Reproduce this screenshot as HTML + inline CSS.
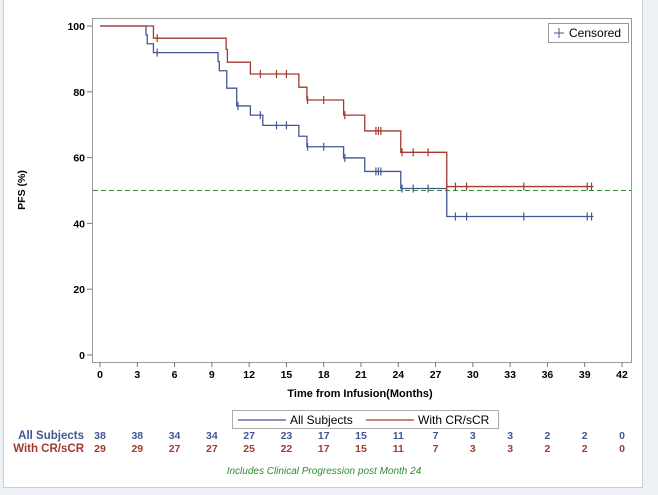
<!DOCTYPE html>
<html><head><meta charset="utf-8"><style>
html,body{margin:0;padding:0;background:#eef1f6;width:658px;height:495px;overflow:hidden}
svg{display:block;font-family:"Liberation Sans",sans-serif}
</style></head><body>
<svg id="chart" width="658" height="495" xmlns="http://www.w3.org/2000/svg">
<rect x="3.5" y="-1" width="639" height="488.5" fill="#fff" stroke="#c8ccd4"/>
</svg>
<script>
const xTicks=[0,3,6,9,12,15,18,21,24,27,30,33,36,39,42];
const yTicks=[0,20,40,60,80,100];
// step series: [time, survival]
const allTimes=[0,3.7,3.8,4.3,9.5,9.6,10.2,11.0,12.1,13.1,16.0,16.65,19.6,21.3,24.2,27.9,39.7];
const allSurv=[100,97.3,94.6,91.9,89.2,86.4,81.1,75.7,72.9,69.8,66.5,63.3,59.9,55.8,50.6,42.1,42.1];
const allCens=[4.6,11.1,12.9,14.2,15.0,16.7,18.0,19.7,22.2,22.4,22.6,24.3,25.2,26.4,28.6,29.5,34.1,39.2,39.55];
const crTimes=[0,4.3,10.15,10.25,12.1,16.0,16.65,19.6,21.3,24.2,27.9,39.7];
const crSurv=[100,96.3,92.9,89.0,85.4,81.4,77.5,72.9,68.1,61.6,51.2,51.2];
const crCens=[4.6,12.9,14.2,15.0,16.7,18.0,19.7,22.2,22.4,22.6,24.3,25.2,26.4,27.9,28.6,29.5,34.1,39.2,39.55];
const riskAll=[38,38,34,34,27,23,17,15,11,7,3,3,2,2,0];
const riskCR=[29,29,27,27,25,22,17,15,11,7,3,3,2,2,0];
const refLine=50;

const svg=document.getElementById('chart');
const NS='http://www.w3.org/2000/svg';
const X=t=>100+t*(522/42);
const Y=v=>355-v*(329/100);
const BLUE='#445694', RED='#a23a2e';
function mk(tag,attrs,parent){const e=document.createElementNS(NS,tag);for(const k in attrs)e.setAttribute(k,attrs[k]);(parent||svg).appendChild(e);return e;}

let f=mk('rect',{x:92.5,y:18.5,width:539,height:344,fill:'#fff',stroke:'#999'});



xTicks.forEach(t=>{
  const l=mk('line',{x1:X(t),x2:X(t),y1:362,y2:367,stroke:'#777'});
  
  
  const tx=mk('text',{x:X(t),y:378,'text-anchor':'middle','font-size':10.5,'font-weight':'bold',fill:'#000'});
  tx.textContent=t;
  
  
});
yTicks.forEach(v=>{
  const l=mk('line',{x1:87,x2:92,y1:Y(v),y2:Y(v),stroke:'#777'});
  
  
  const tx=mk('text',{x:85,y:Y(v)+4,'text-anchor':'end','font-size':10.5,'font-weight':'bold',fill:'#000'});
  tx.textContent=v;
  
  
});
let yt=mk('text',{x:0,y:0,transform:'translate(25,190) rotate(-90)','text-anchor':'middle','font-size':10.5,'font-weight':'bold'});
yt.textContent='PFS (%)';


let xt=mk('text',{x:360,y:397,'text-anchor':'middle','font-size':11,'font-weight':'bold'});
xt.textContent='Time from Infusion(Months)';



let rl=mk('line',{x1:93,x2:631,y1:Y(refLine),y2:Y(refLine),stroke:'#2e8b2e','stroke-dasharray':'5,3'});



function stepPath(ts,ss){let d=`M${X(ts[0])},${Y(ss[0])}`;for(let i=1;i<ts.length;i++){d+=` H${X(ts[i])} V${Y(ss[i])}`;}return d;}
function survAt(ts,ss,t){let v=ss[0];for(let i=0;i<ts.length;i++){if(ts[i]<=t)v=ss[i];}return v;}
function drawSeries(ts,ss,cs,color,name){
  const p=mk('path',{d:stepPath(ts,ss),fill:'none',stroke:color,'stroke-width':1.3});
  
  
  cs.forEach(c=>{const y=Y(survAt(ts,ss,c));
    const l=mk('line',{x1:X(c),x2:X(c),y1:y-4,y2:y+4,stroke:color,'stroke-width':1.2});
    
    });
}
drawSeries(allTimes,allSurv,allCens,BLUE,'all-subjects');
drawSeries(crTimes,crSurv,crCens,RED,'cr-scr');

let cg=mk('g',{});


mk('rect',{x:548.5,y:23.5,width:80,height:19,fill:'#fff',stroke:'#999'},cg);
mk('line',{x1:559,x2:559,y1:28,y2:38,stroke:BLUE},cg);
mk('line',{x1:554,x2:564,y1:33,y2:33,stroke:BLUE},cg);
let ct=mk('text',{x:569,y:37,'font-size':12,fill:'#000'},cg);ct.textContent='Censored';

let lg=mk('g',{});


mk('rect',{x:232.5,y:410.5,width:266,height:18,fill:'#fff',stroke:'#aaa'},lg);
mk('line',{x1:238,x2:286,y1:420,y2:420,stroke:BLUE,'stroke-width':1.3},lg);
let l1=mk('text',{x:290,y:424,'font-size':12},lg);l1.textContent='All Subjects';
mk('line',{x1:366,x2:414,y1:420,y2:420,stroke:RED,'stroke-width':1.3},lg);
let l2=mk('text',{x:418,y:424,'font-size':12},lg);l2.textContent='With CR/sCR';

function riskRow(label,vals,y,color,name){
  const t=mk('text',{x:84,y:y,'text-anchor':'end','font-size':11.5,'font-weight':'bold',fill:color});
  t.textContent=label;
  
  
  vals.forEach((v,i)=>{const e=mk('text',{x:X(xTicks[i]),y:y,'text-anchor':'middle','font-size':10.5,'font-weight':'bold',fill:color});
    e.textContent=v;
    
    });
}
riskRow('All Subjects',riskAll,439,BLUE,'all-subjects');
riskRow('With CR/sCR',riskCR,452,RED,'cr-scr');

let fn=mk('text',{x:324,y:474,'text-anchor':'middle','font-size':10,'font-style':'italic',fill:'#2e8b2e'});
fn.textContent='Includes Clinical Progression post Month 24';


</script>
</body></html>
